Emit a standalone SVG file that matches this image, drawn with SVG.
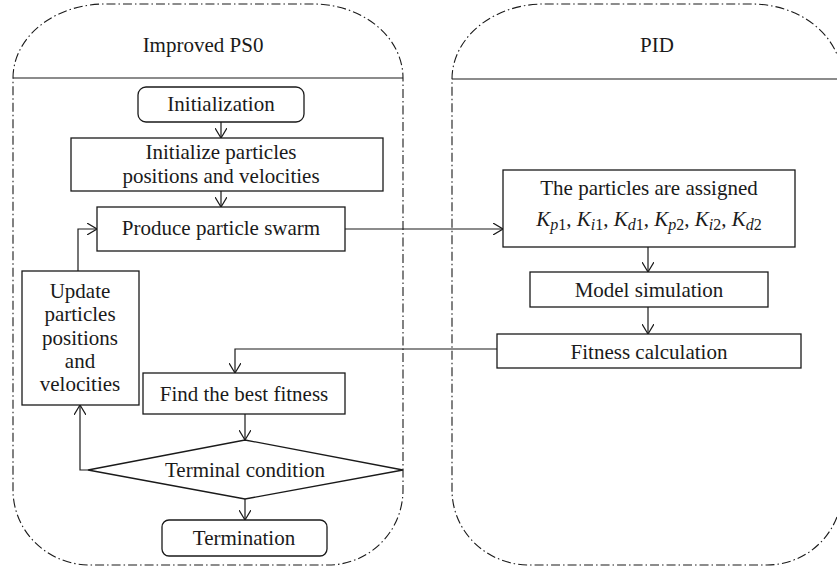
<svg xmlns="http://www.w3.org/2000/svg" width="837" height="571" viewBox="0 0 837 571">
<style>
text{font-family:"Liberation Serif","Times New Roman",serif;font-size:21px;fill:#1a1a1a}
.t{text-anchor:middle}
.lane{fill:none;stroke:#1a1a1a;stroke-width:1.1;stroke-dasharray:9 3 1.5 3}
.sep{stroke:#1a1a1a;stroke-width:1.2}
.box{fill:#fff;stroke:#1a1a1a;stroke-width:1.3}
.c{fill:none;stroke:#1a1a1a;stroke-width:1.2;marker-end:url(#a)}
.i{font-style:italic}
</style>
<defs>
<marker id="a" viewBox="0 0 10 12" refX="10" refY="6" markerWidth="10" markerHeight="12" markerUnits="userSpaceOnUse" orient="auto">
<path d="M0,0 L10,6 L0,12" fill="none" stroke="#1a1a1a" stroke-width="1.2"/>
</marker>
</defs>
<g id="lane-pso">
<path class="lane" d="M13,78 A92,74 0 0 1 105,4 L313,4 A90,74 0 0 1 403,78 L403,490 A75,75 0 0 1 328,565 L90,565 A77,75 0 0 1 13,490 Z"/>
<line class="sep" x1="13" y1="78" x2="403" y2="78"/>
<text class="t" x="203" y="52">Improved PS0</text>
</g>
<g id="lane-pid">
<path class="lane" d="M452,79 A92,75 0 0 1 544,4 L752,4 A90,75 0 0 1 842,79 L842,490 A75,75 0 0 1 767,565 L529,565 A77,75 0 0 1 452,490 Z"/>
<line class="sep" x1="452" y1="79" x2="837" y2="79"/>
<text class="t" x="657" y="52">PID</text>
</g>
<g id="connectors">
<line class="c" x1="221" y1="122" x2="221" y2="138"/>
<line class="c" x1="221" y1="191" x2="221" y2="207"/>
<line class="c" x1="345" y1="229" x2="503" y2="229"/>
<polyline class="c" points="78,271 78,229 97,229"/>
<line class="c" x1="648" y1="247" x2="648" y2="272"/>
<line class="c" x1="648" y1="307" x2="648" y2="334"/>
<polyline class="c" points="497,349 235,349 235,373"/>
<line class="c" x1="245" y1="414" x2="245" y2="440"/>
<polyline class="c" points="88,470 80,470 80,405"/>
<line class="c" x1="245" y1="499" x2="245" y2="520"/>
</g>
<g id="initialization">
<rect class="box" x="138" y="87" width="166" height="35" rx="8"/>
<text class="t" x="221" y="111">Initialization</text>
</g>
<g id="init-particles">
<rect class="box" x="71" y="138" width="312" height="53"/>
<text class="t" x="221" y="159">Initialize particles</text>
<text class="t" x="221" y="183">positions and velocities</text>
</g>
<g id="produce">
<rect class="box" x="97" y="207" width="248" height="44"/>
<text class="t" x="221" y="235">Produce particle swarm</text>
</g>
<g id="update">
<rect class="box" x="22" y="271" width="117" height="134"/>
<text class="t" x="80" y="298">Update</text>
<text class="t" x="80" y="321">particles</text>
<text class="t" x="80" y="345">positions</text>
<text class="t" x="80" y="368">and</text>
<text class="t" x="80" y="391">velocities</text>
</g>
<g id="best-fitness">
<rect class="box" x="143" y="373" width="202" height="41"/>
<text class="t" x="244" y="401">Find the best fitness</text>
</g>
<g id="terminal">
<polygon class="box" points="245,440 403,470 245,499 88,470"/>
<text class="t" x="245" y="477">Terminal condition</text>
</g>
<g id="termination">
<rect class="box" x="162" y="520" width="165" height="36" rx="7"/>
<text class="t" x="244" y="545">Termination</text>
</g>
<g id="assign">
<rect class="box" x="503" y="170" width="292" height="77"/>
<text class="t" x="649" y="195">The particles are assigned</text>
<text class="t" x="649" y="226" font-size="23"><tspan class="i">K</tspan><tspan font-size="16" dy="4"><tspan class="i">p</tspan>1</tspan><tspan dy="-4">, </tspan><tspan class="i">K</tspan><tspan font-size="16" dy="4"><tspan class="i">i</tspan>1</tspan><tspan dy="-4">, </tspan><tspan class="i">K</tspan><tspan font-size="16" dy="4"><tspan class="i">d</tspan>1</tspan><tspan dy="-4">, </tspan><tspan class="i">K</tspan><tspan font-size="16" dy="4"><tspan class="i">p</tspan>2</tspan><tspan dy="-4">, </tspan><tspan class="i">K</tspan><tspan font-size="16" dy="4"><tspan class="i">i</tspan>2</tspan><tspan dy="-4">, </tspan><tspan class="i">K</tspan><tspan font-size="16" dy="4"><tspan class="i">d</tspan>2</tspan></text>
</g>
<g id="model-sim">
<rect class="box" x="530" y="272" width="238" height="35"/>
<text class="t" x="649" y="297">Model simulation</text>
</g>
<g id="fitness-calc">
<rect class="box" x="497" y="334" width="304" height="34"/>
<text class="t" x="649" y="359">Fitness calculation</text>
</g>
</svg>
